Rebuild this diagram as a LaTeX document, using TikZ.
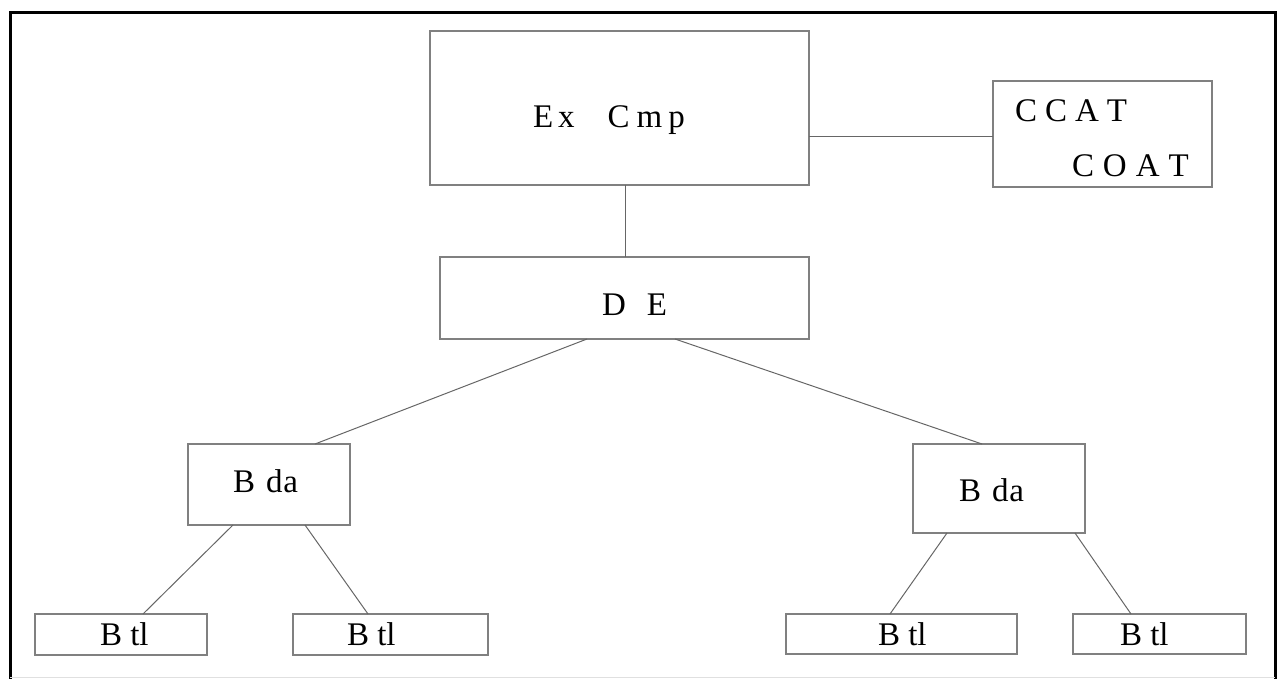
\documentclass[tikz,border=0pt]{standalone}
\usepackage{fontspec}
\setmainfont{Liberation Serif}
\usetikzlibrary{calc}

\tikzset{
  box/.style={draw=black!50, line width=1.5pt, rectangle, inner sep=0pt, outer sep=0pt},
  link/.style={draw=black!60, line width=1pt},
  lbl/.style={anchor=base west, inner sep=0pt, outer sep=0pt, text=black,
              font=\fontsize{33}{36}\selectfont},
}

\begin{document}
\begin{tikzpicture}[x=1pt, y=-1pt]
  \useasboundingbox (0,0) rectangle (1283,679);

  % outer frame
  \draw[line width=3pt, black] (10,681) -- (10,13) -- (1275,13) -- (1275,681);
  \draw[line width=1pt, black!12] (10,677.5) -- (1275,677.5);

  % boxes
  \node[box, minimum width=379pt, minimum height=154pt] (ex) at (619.5,108) {};
  \node[box, minimum width=219pt, minimum height=106pt] (cc) at (1102.5,134) {};
  \node[box, minimum width=369pt, minimum height=82pt]  (de) at (624.5,298) {};
  \node[box, minimum width=162pt, minimum height=81pt]  (bl) at (269,484.5) {};
  \node[box, minimum width=172pt, minimum height=89pt]  (br) at (999,488.5) {};
  \node[box, minimum width=172pt, minimum height=41pt]  (t1) at (121,634.5) {};
  \node[box, minimum width=195pt, minimum height=41pt]  (t2) at (390.5,634.5) {};
  \node[box, minimum width=231pt, minimum height=40pt]  (t3) at (901.5,634) {};
  \node[box, minimum width=173pt, minimum height=40pt]  (t4) at (1159.5,634) {};

  % labels
  \node[lbl] (exT) at (533,128) {E\hspace{5pt}x\hspace{33pt}C\hspace{7pt}m\hspace{6pt}p};
  \node[lbl] (ccT) at (1015,122) {C\hspace{8pt}C\hspace{8pt}A\hspace{8pt}T};
  \node[lbl] (coT) at (1072,177) {C\hspace{9pt}O\hspace{9pt}A\hspace{9pt}T};
  \node[lbl] (deT) at (602,315) {D\hspace{21pt}E};
  \node[lbl] (blT) at (233,492) {B\hspace{11pt}d\hspace{1pt}a};
  \node[lbl] (brT) at (959,501) {B\hspace{11pt}d\hspace{1pt}a};
  \node[lbl] (t1T) at (100,645) {B tl};
  \node[lbl] (t2T) at (347,645) {B tl};
  \node[lbl] (t3T) at (878,645) {B tl};
  \node[lbl] (t4T) at (1120,645) {B tl};

  % connectors
  \coordinate (exR) at ($(ex.north east)!0.688!(ex.south east)$);
  \draw[link] (exR) -- (exR -| cc.west);
  \draw[link] ([xshift=5.5pt]ex.south) -- ([xshift=0.5pt]de.north);
  \draw[link] ([xshift=-37.5pt]de.south) -- ([xshift=46pt]bl.north);
  \draw[link] ([xshift=50.5pt]de.south) -- ([xshift=-17pt]br.north);
  \draw[link] ([xshift=-36pt]bl.south) -- ([xshift=22pt]t1.north);
  \draw[link] ([xshift=36pt]bl.south) -- ([xshift=-22.5pt]t2.north);
  \draw[link] ([xshift=-52pt]br.south) -- ([xshift=-11.5pt]t3.north);
  \draw[link] ([xshift=76pt]br.south) -- ([xshift=-28.5pt]t4.north);
\end{tikzpicture}
\end{document}
